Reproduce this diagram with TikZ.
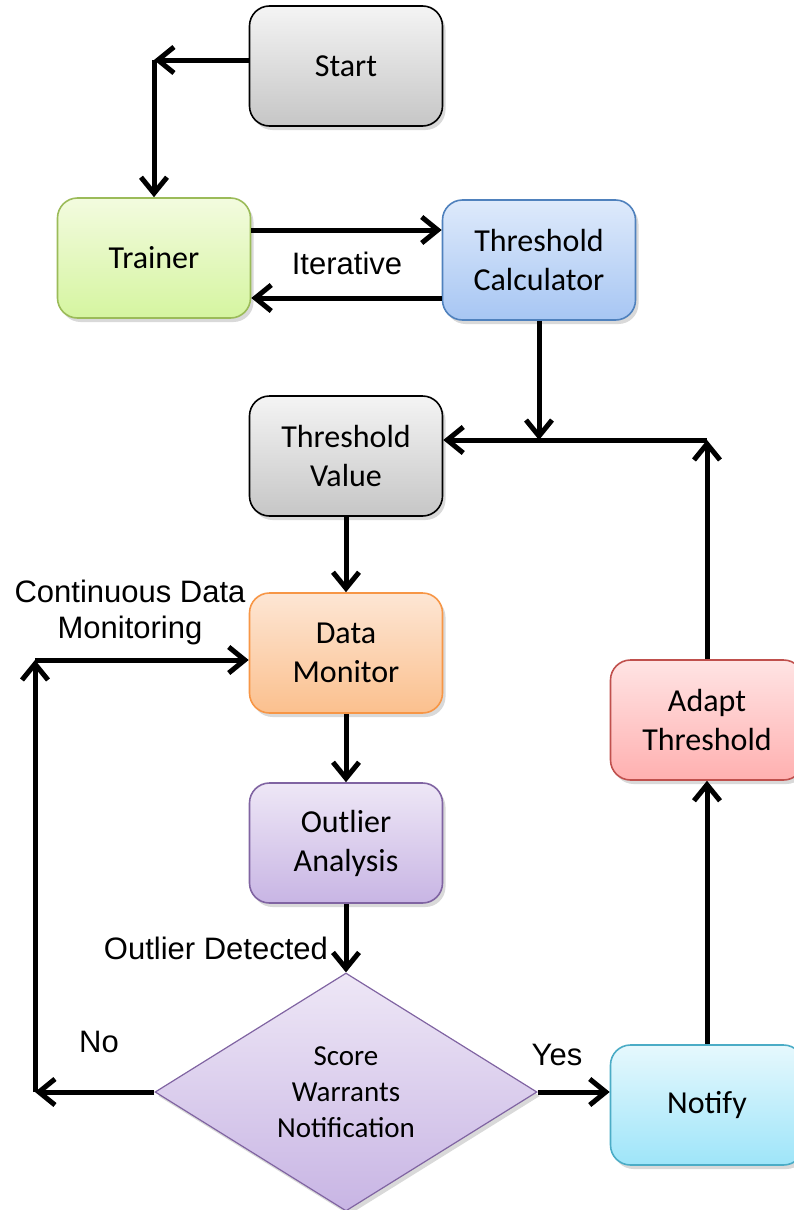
\documentclass[tikz,border=0pt]{standalone}
\usepackage{fontspec}
\setmainfont{Carlito}
\newfontfamily\labelfont{Liberation Sans}
\usetikzlibrary{arrows.meta,shapes.geometric,shadows}

\definecolor{greytop}{HTML}{F4F4F4}
\definecolor{greybot}{HTML}{C6C6C6}
\definecolor{greentop}{HTML}{F3FBDF}
\definecolor{greenbot}{HTML}{D5F5A0}
\definecolor{greenline}{HTML}{9BBB59}
\definecolor{bluetop}{HTML}{DEEAFB}
\definecolor{bluebot}{HTML}{A7C6F3}
\definecolor{blueline}{HTML}{4F81BD}
\definecolor{orangetop}{HTML}{FDE6D4}
\definecolor{orangebot}{HTML}{FBC08E}
\definecolor{orangeline}{HTML}{F79646}
\definecolor{purpletop}{HTML}{EEE7F6}
\definecolor{purplebot}{HTML}{C8B5E4}
\definecolor{purpleline}{HTML}{8064A2}
\definecolor{cyantop}{HTML}{E6F8FD}
\definecolor{cyanbot}{HTML}{9EE5F9}
\definecolor{cyanline}{HTML}{4BACC6}
\definecolor{redtop}{HTML}{FFE4E4}
\definecolor{redbot}{HTML}{FFB0B0}
\definecolor{redline}{HTML}{C0504D}

\begin{document}
\begin{tikzpicture}[x=0.5pt, y=-0.5pt,
		box/.style={rectangle, rounded corners=10pt, minimum width=96.5pt, minimum height=60pt, line width=0.8pt, align=center, font=\fontsize{16}{19.5}\selectfont, drop shadow={shadow xshift=1.5pt, shadow yshift=-2pt, opacity=0.3}},
		greybox/.style={box, draw=black, top color=greytop, bottom color=greybot},
		greenbox/.style={box, draw=greenline, top color=greentop, bottom color=greenbot},
		bluebox/.style={box, draw=blueline, top color=bluetop, bottom color=bluebot},
		orangebox/.style={box, draw=orangeline, top color=orangetop, bottom color=orangebot},
		purplebox/.style={box, draw=purpleline, top color=purpletop, bottom color=purplebot},
		cyanbox/.style={box, draw=cyanline, top color=cyantop, bottom color=cyanbot},
		redbox/.style={box, draw=redline, top color=redtop, bottom color=redbot},
		decision/.style={diamond, aspect=1.6, minimum width=191pt, minimum height=119pt, inner sep=0pt, line width=0.6pt, draw=purpleline, top color=purpletop, bottom color=purplebot, align=center, font=\fontsize{14.5}{18}\selectfont, drop shadow={shadow xshift=1.5pt, shadow yshift=-2pt, opacity=0.3}},
		arr/.style={line width=2.5pt, -{Straight Barb[length=8pt, width=13pt]}},
		lbl/.style={font=\labelfont\fontsize{15.5}{18}\selectfont}]
	\useasboundingbox (0,0) rectangle (793,1210);

	\node[greybox] (start) at (346,66) {Start};
	\node[greenbox] (trainer) at (154,258) {Trainer};
	\node[bluebox] (calc) at (539,260) {Threshold\\Calculator};
	\node[greybox] (value) at (346,456) {Threshold\\Value};
	\node[orangebox] (monitor) at (346,653) {Data\\Monitor};
	\node[purplebox] (analysis) at (346,843) {Outlier\\Analysis};
	\node[decision] (score) at (346,1092) {Score\\Warrants\\Notification};
	\node[cyanbox] (notify) at (707,1105) {Notify};
	\node[redbox] (adapt) at (707,720) {Adapt\\Threshold};

	\coordinate (turn) at (707,440);
	\coordinate (back) at (35,660);

	\draw[arr] ([yshift=3pt]start.west) -- ([yshift=3pt]start.west -| trainer.north);
	\draw[arr] ([yshift=3pt]start.west -| trainer.north) -- (trainer.north);
	\draw[arr] ([yshift=14pt]trainer.east) -- ([yshift=14pt]trainer.east -| calc.west);
	\draw[arr] ([yshift=-20pt]calc.west |- trainer.east) -- ([yshift=-20pt]trainer.east);
	\draw[arr] (calc.south) -- (calc.south |- turn);
	\draw[arr] (adapt.north) -- (turn);
	\draw[arr] (turn) -- (turn -| value.east);
	\draw[arr] (value.south) -- (monitor.north);
	\draw[arr] (monitor.south) -- (analysis.north);
	\draw[arr] (analysis.south) -- (score.north);
	\draw[arr] (score.west) -- (score.west -| back);
	\draw[arr] (score.west -| back) -- (back);
	\draw[arr] (back) -- (back -| monitor.west);
	\draw[arr] (score.east) -- (score.east -| notify.west);
	\draw[arr] (notify.north) -- (adapt.south);

	\node[lbl] (iter) at (347,263) {Iterative};
	\node[lbl, align=center] (cont) at (130,612) {Continuous Data\\Monitoring};
	\node[lbl, anchor=east] (det) at (335,948) {Outlier Detected};
	\node[lbl] (no) at (99,1042) {No};
	\node[lbl] (yes) at (557,1055) {Yes};
\end{tikzpicture}
\end{document}
